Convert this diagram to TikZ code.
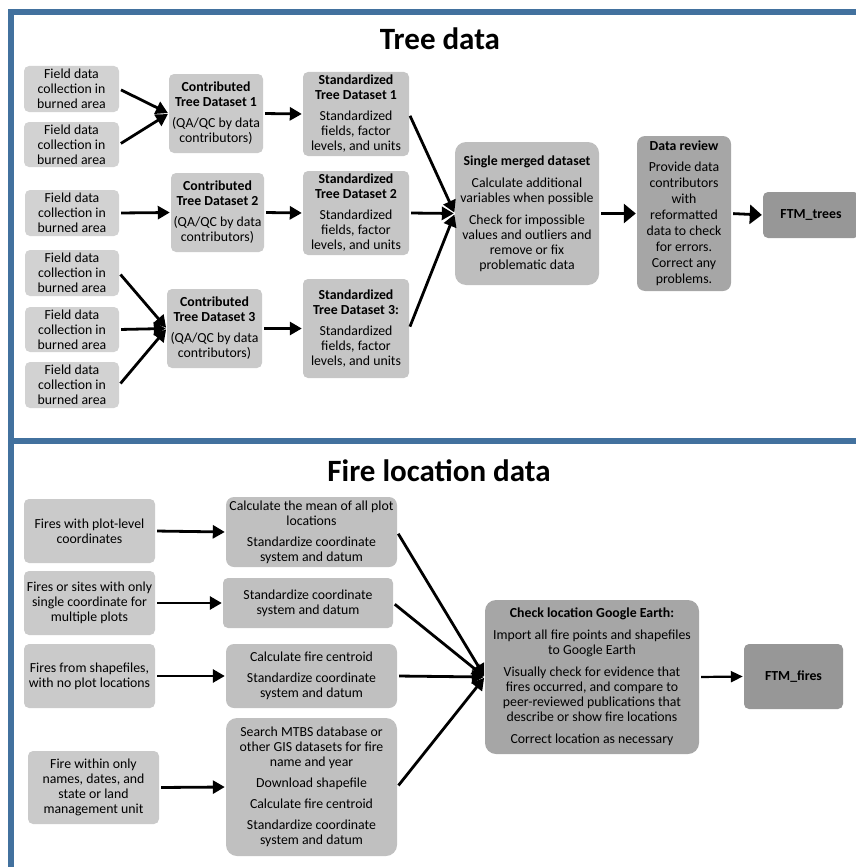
\documentclass[tikz,border=0pt]{standalone}
\usepackage{fontspec}
\setmainfont{Carlito}
\usetikzlibrary{arrows.meta}
\definecolor{bordc}{RGB}{66,113,158}
\definecolor{cfield}{RGB}{210,210,210}
\definecolor{ccontr}{RGB}{202,202,202}
\definecolor{cstd}{RGB}{198,198,198}
\definecolor{cmerge}{RGB}{190,190,190}
\definecolor{creview}{RGB}{166,166,166}
\definecolor{cftm}{RGB}{151,151,151}
\definecolor{cfa}{RGB}{202,202,202}
\definecolor{cfb}{RGB}{192,192,192}
\definecolor{ccheck}{RGB}{166,166,166}
\begin{document}
\begin{tikzpicture}[x=1pt,y=-1pt,
  box/.style={rounded corners=5pt, inner sep=0pt, align=center, font=\fontsize{13.8}{15}\selectfont, text=black},
  bigbox/.style={box, rounded corners=11pt},
  wh/.style 2 args={minimum width=#1pt, minimum height=#2pt},
  title/.style={font=\fontsize{31}{37}\selectfont\bfseries, anchor=base, inner sep=0pt},
  border/.style={line width=6pt, color=bordc},
  arr/.style={line width=2.8pt, -{Triangle[length=12pt,width=13pt]}, shorten <=2pt, shorten >=1pt},
  bigarr/.style={line width=2.8pt, -{Triangle[length=12pt,width=19pt]}, shorten <=2pt, shorten >=1pt},
  thinarr/.style={line width=2.2pt, -{Triangle[length=12pt,width=11pt]}, shorten <=2pt, shorten >=1pt}
]
\useasboundingbox (0,0) rectangle (855,867);
% frame
\draw[border] (11,875) -- (11,12) -- (870,12);
\draw[border] (11,441) -- (870,441);
% titles
\node[title] (t1) at (440,49) {Tree data};
\node[title] (t2) at (439,481) {Fire location data};
% ---------- Tree data ----------
\node[box, fill=cfield, wh={95}{46}] (f1) at (71.5,89) {Field data\\collection in\\burned area};
\node[box, fill=cfield, wh={95}{45}] (f2) at (71.5,144.5) {Field data\\collection in\\burned area};
\node[box, fill=cfield, wh={94}{46}] (f3) at (72,213) {Field data\\collection in\\burned area};
\node[box, fill=cfield, wh={94}{46}] (f4) at (72,273) {Field data\\collection in\\burned area};
\node[box, fill=cfield, wh={94}{45}] (f5) at (72,329.5) {Field data\\collection in\\burned area};
\node[box, fill=cfield, wh={94}{46}] (f6) at (72,385) {Field data\\collection in\\burned area};

\node[box, fill=ccontr, wh={94}{79}] (c1) at (216,113.5) {\textbf{Contributed}\\\textbf{Tree Dataset 1}\\[6pt](QA/QC by data\\contributors)};
\node[box, fill=ccontr, wh={93}{79}] (c2) at (217.5,212.5) {\textbf{Contributed}\\\textbf{Tree Dataset 2}\\[6pt](QA/QC by data\\contributors)};
\node[box, fill=ccontr, wh={95}{79}] (c3) at (214.5,328.5) {\textbf{Contributed}\\\textbf{Tree Dataset 3}\\[6pt](QA/QC by data\\contributors)};

\node[box, fill=cstd, wh={106}{84}] (s1) at (356,114) {\textbf{Standardized}\\\textbf{Tree Dataset 1}\\[6pt]Standardized\\fields, factor\\levels, and units};
\node[box, fill=cstd, wh={106}{84}] (s2) at (356,213) {\textbf{Standardized}\\\textbf{Tree Dataset 2}\\[6pt]Standardized\\fields, factor\\levels, and units};
\node[box, fill=cstd, wh={106}{99}] (s3) at (356,328.5) {\textbf{Standardized}\\\textbf{Tree Dataset 3:}\\[6pt]Standardized\\fields, factor\\levels, and units};

\node[bigbox, fill=cmerge, wh={144}{143}] (m) at (527,213.5) {\textbf{Single merged dataset}\\[7pt]Calculate additional\\variables when possible\\[7pt]Check for impossible\\values and outliers and\\remove or fix\\problematic data};
\node[box, rounded corners=8pt, fill=creview, wh={94}{155}, font=\fontsize{13.8}{16}\selectfont] (r) at (684,213.5) {\textbf{Data review}\\[5pt]Provide data\\contributors\\with\\reformatted\\data to check\\for errors.\\Correct any\\problems.};
\node[box, fill=cftm, wh={96}{46}] (ftmt) at (811,215) {\textbf{FTM\_trees}};

\draw[arr] (f1.east) -- (c1.west);
\draw[arr] (f2.east) -- (c1.west);
\draw[arr] (f3.east) -- (c2.west);
\draw[arr] (f4.east) -- (c3.west);
\draw[arr] (f5.east) -- (c3.west);
\draw[arr] (f6.east) -- (c3.west);
\draw[arr] (c1.east) -- (s1.west);
\draw[arr] (c2.east) -- (s2.west);
\draw[arr] (c3.east) -- (s3.west);
\draw[arr] (s1.east) -- (m.west);
\draw[arr] (s2.east) -- (m.west);
\draw[arr] (s3.east) -- (m.west);
\draw[bigarr] (m.east) -- (r.west);
\draw[bigarr] (r.east) -- (ftmt.west);
% ---------- Fire location data ----------
\node[box, fill=cfa, wh={131}{64}] (a1) at (89.5,531) {Fires with plot-level\\coordinates};
\node[box, fill=cfa, wh={131}{64}] (a2) at (89.5,603) {Fires or sites with only\\single coordinate for\\multiple plots};
\node[box, fill=cfa, wh={131}{64}] (a3) at (89.5,676) {Fires from shapefiles,\\with no plot locations};
\node[box, fill=cfa, wh={131}{73}] (a4) at (93.5,787.5) {Fire within only\\names, dates, and\\state or land\\management unit};

\node[box, rounded corners=8pt, fill=cfb, wh={171}{70}] (b1) at (311.5,532) {Calculate the mean of all plot\\locations\\[6pt]Standardize coordinate\\system and datum};
\node[box, fill=cfb, wh={170}{50}] (b2) at (308,603) {Standardize coordinate\\system and datum};
\node[box, rounded corners=8pt, fill=cfb, wh={171}{64}] (b3) at (311.5,676) {Calculate fire centroid\\[6pt]Standardize coordinate\\system and datum};
\node[bigbox, fill=cfb, wh={171}{138}] (b4) at (311.5,787) {Search MTBS database or\\other GIS datasets for fire\\name and year\\[6pt]Download shapefile\\[6pt]Calculate fire centroid\\[6pt]Standardize coordinate\\system and datum};

\node[bigbox, fill=ccheck, wh={214}{154}] (chk) at (592,677) {\textbf{Check location Google Earth:}\\[7pt]Import all fire points and shapefiles\\to Google Earth\\[7pt]Visually check for evidence that\\fires occurred, and compare to\\peer-reviewed publications that\\describe or show fire locations\\[7pt]Correct location as necessary};
\node[box, fill=cftm, wh={99}{65}] (ftmf) at (793.5,676.5) {\textbf{FTM\_fires}};

\draw[arr] (a1.east) -- (b1.west);
\draw[arr] (a2.east) -- (b2.west);
\draw[arr] (a3.east) -- (b3.west);
\draw[arr] (a4.east) -- (b4.west);
\draw[arr] (b1.east) -- (chk.west);
\draw[arr] (b2.east) -- (chk.west);
\draw[arr] (b3.east) -- (chk.west);
\draw[arr] (b4.east) -- (chk.west);
\draw[thinarr] (chk.east) -- (ftmf.west);
\end{tikzpicture}
\end{document}
